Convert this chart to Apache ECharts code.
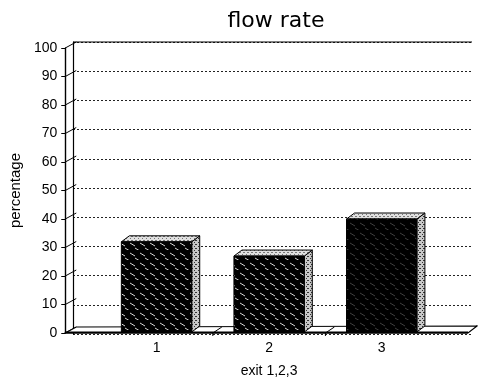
<!DOCTYPE html>
<html><head><meta charset="utf-8">
<script src="https://cdn.jsdelivr.net/npm/echarts@6/dist/echarts.min.js"></script>
<style>html,body{margin:0;padding:0;background:#fff}#c{width:478px;height:383px}</style>
</head><body><div id="c"></div>
<script>
const categories = ['1', '2', '3'];
const values = [32, 27, 40];
const yTicks = [0, 10, 20, 30, 40, 50, 60, 70, 80, 90, 100];
const titleText = 'flow rate';
const yName = 'percentage';
const xName = 'exit 1,2,3';

function makeHatch(density) {
  const c = document.createElement('canvas');
  c.width = 10; c.height = 10;
  const g = c.getContext('2d');
  g.fillStyle = '#000'; g.fillRect(0, 0, 10, 10);
  g.strokeStyle = 'rgba(255,255,255,' + density + ')';
  g.lineWidth = 1;
  g.beginPath(); g.moveTo(0, 3); g.lineTo(5, 6); g.stroke();
  g.beginPath(); g.moveTo(5, 8); g.lineTo(9, 10.5); g.stroke();
  return c;
}
function makeStipple(bg, dot) {
  const c = document.createElement('canvas');
  c.width = 4; c.height = 4;
  const g = c.getContext('2d');
  g.fillStyle = bg; g.fillRect(0, 0, 4, 4);
  g.fillStyle = dot;
  g.fillRect(0, 0, 1, 1); g.fillRect(2, 2, 1, 1); g.fillRect(3, 0, 1, 1);
  return c;
}
const hatchStrong = makeHatch(0.85);
const hatchWeak = makeHatch(0.25);
const frontFills = [hatchStrong, hatchStrong, hatchWeak];
const topFill = makeStipple('#e0e0e0', '#777');
const sideFill = makeStipple('#c8c8c8', '#333');

const chart = echarts.init(document.getElementById('c'), null, {renderer: 'canvas'});
const FONT = 'Liberation Sans';
const DX = 11, DY = -6;     // wall depth offset
const BDX = 8, BDY = -6;    // bar depth offset

chart.setOption({
  animation: false,
  backgroundColor: '#fff',
  title: {
    text: titleText, left: 271, top: 5, textAlign: 'center',
    textStyle: {fontFamily: 'DejaVu Sans', fontSize: 22, fontWeight: 'normal', color: '#000'}
  },
  graphic: [{
    type: 'line', z: 5,
    shape: {x1: 73, y1: 42, x2: 472, y2: 42},
    style: {stroke: '#000', lineWidth: 1.2}
  }],
  grid: [
    {left: 73, right: 6, top: 42, bottom: 49},
    {left: 97, right: 40, top: 48, bottom: 43}
  ],
  xAxis: [
    {gridIndex: 0, type: 'category', data: categories, show: false},
    {gridIndex: 1, type: 'category', data: categories,
     axisLine: {show: false},
     axisTick: {show: false},
     axisLabel: {color: '#000', fontFamily: FONT, fontSize: 14, margin: 8},
     name: xName, nameLocation: 'middle', nameGap: 31,
     nameTextStyle: {color: '#000', fontFamily: FONT, fontSize: 14}}
  ],
  yAxis: [
    {gridIndex: 0, type: 'value', min: 0, max: 100, interval: 10,
     axisLine: {show: true, lineStyle: {color: '#000', width: 1.2}},
     axisTick: {show: false}, axisLabel: {show: false},
     splitLine: {show: true, lineStyle: {color: '#222', type: [2, 2], width: 1}}},
    {gridIndex: 1, type: 'value', min: 0, max: 100, interval: 10, offset: 35,
     axisLine: {show: true, lineStyle: {color: '#000', width: 1.4}},
     axisTick: {show: true, length: 4, lineStyle: {color: '#000'}},
     axisLabel: {color: '#000', fontFamily: FONT, fontSize: 14, margin: 8},
     splitLine: {show: false},
     name: yName, nameLocation: 'middle', nameGap: 37, nameRotate: 90,
     nameTextStyle: {color: '#000', fontFamily: FONT, fontSize: 15}}
  ],
  series: [
    {
      type: 'custom', xAxisIndex: 1, yAxisIndex: 1, z: 3,
      data: yTicks.map(v => [0, v]),
      renderItem(params, api) {
        const p = api.coord([0, api.value(1)]);
        const x = params.coordSys.x - 35;
        return {type: 'line', shape: {x1: x, y1: p[1], x2: x + DX, y2: p[1] + DY},
                style: {stroke: '#000', lineWidth: 1}};
      }
    },
    {
      type: 'custom', xAxisIndex: 1, yAxisIndex: 1, z: 4,
      data: [[0, 0]],
      renderItem(params, api) {
        const cs = params.coordSys;
        const yF = cs.y + cs.height;
        const xL = cs.x - 35, xR = cs.x + cs.width + 30;
        const half = api.size([1, 0])[0] / 2;
        const children = [{
          type: 'polygon',
          shape: {points: [[xL, yF], [xR, yF], [xR + DX - 2, yF + DY - 1], [xL + DX, yF + DY]]},
          style: {fill: '#fff', stroke: '#000', lineWidth: 1.2}
        }, {
          type: 'line', shape: {x1: xL, y1: yF - 0.5, x2: xR, y2: yF - 0.5},
          style: {stroke: '#000', lineWidth: 2.2}
        }];
        for (let i = 0; i < categories.length - 1; i++) {
          const bx = api.coord([i, 0])[0] + half;
          children.push({type: 'line', shape: {x1: bx, y1: yF, x2: bx + DX - 2, y2: yF + DY},
                         style: {stroke: '#000', lineWidth: 1}});
          children.push({type: 'line', shape: {x1: bx, y1: yF, x2: bx, y2: yF + 3},
                         style: {stroke: '#000', lineWidth: 1}});
        }
        return {type: 'group', children};
      }
    },
    {
      type: 'custom', xAxisIndex: 1, yAxisIndex: 1, z: 5,
      data: values.map((v, i) => [i, v]),
      renderItem(params, api) {
        const i = api.value(0);
        const top = api.coord([i, api.value(1)]);
        const base = api.coord([i, 0]);
        const bw = api.size([1, 0])[0] * 0.625;
        const x0 = top[0] - bw / 2, x1 = top[0] + bw / 2;
        const yT = top[1], yB = base[1] - 1;
        return {type: 'group', children: [
          {type: 'polygon',
           shape: {points: [[x1, yT], [x1 + BDX, yT + BDY], [x1 + BDX, yB + BDY], [x1, yB]]},
           style: {fill: {image: sideFill, repeat: 'repeat'}, stroke: '#000', lineWidth: 1}},
          {type: 'polygon',
           shape: {points: [[x0, yT], [x1, yT], [x1 + BDX, yT + BDY], [x0 + BDX, yT + BDY]]},
           style: {fill: {image: topFill, repeat: 'repeat'}, stroke: '#000', lineWidth: 1}},
          {type: 'rect', shape: {x: x0, y: yT, width: bw, height: yB - yT},
           style: {fill: {image: frontFills[params.dataIndex], repeat: 'repeat'}, stroke: '#000', lineWidth: 1}}
        ]};
      }
    }
  ]
});
</script></body></html>
